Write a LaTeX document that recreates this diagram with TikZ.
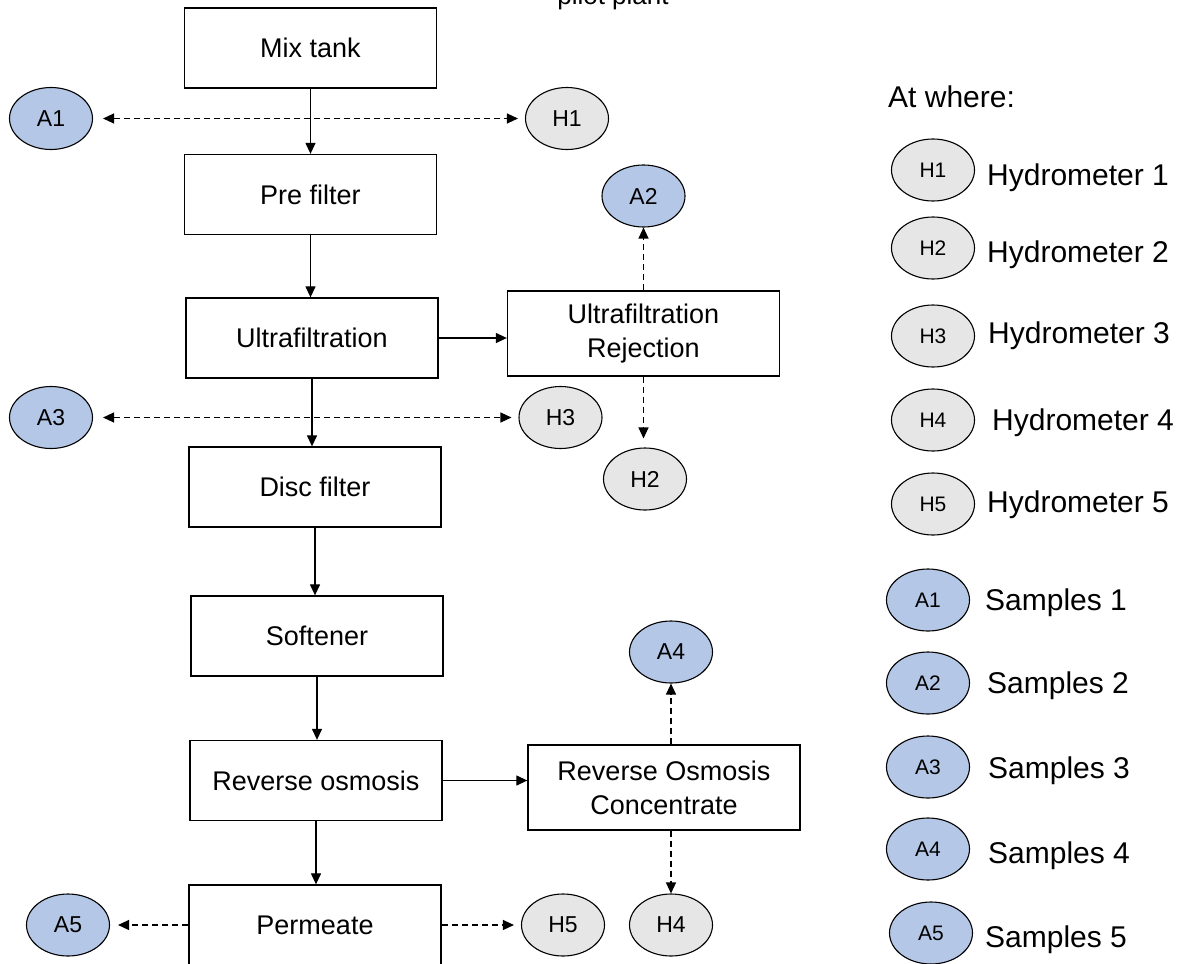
\documentclass[tikz,border=0pt]{standalone}
\usepackage{fontspec}
\setmainfont{Liberation Sans}
\usetikzlibrary{arrows.meta,shapes.geometric}
\definecolor{sblue}{HTML}{B4C7E7}
\definecolor{hgray}{HTML}{E7E6E6}
\begin{document}
\begin{tikzpicture}[x=1pt,y=-1pt,
  proc/.style={draw=black, line width=1.3pt, minimum width=252pt, minimum height=80pt, inner sep=0pt, font=\fontsize{27}{34}\selectfont, align=center},
  sidebox/.style={proc, minimum width=272pt, minimum height=85pt},
  ell/.style={ellipse, draw=black, line width=1.1pt, minimum width=83pt, minimum height=62pt, inner sep=0pt, font=\fontsize{23}{26}\selectfont},
  aell/.style={ell, fill=sblue},
  hell/.style={ell, fill=hgray},
  lab/.style={font=\fontsize{21}{24}\selectfont},
  flow/.style={line width=1.25pt, -{Triangle[length=11pt,width=10pt]}},
  dflow/.style={flow, dash pattern=on 6pt off 4pt},
  dboth/.style={line width=1.25pt, dash pattern=on 6pt off 4pt, {Triangle[length=11pt,width=10pt]}-{Triangle[length=11pt,width=10pt]}},
  leg/.style={anchor=base west, inner sep=0pt, font=\fontsize{30}{36}\selectfont}
]
\useasboundingbox (0,0) rectangle (1189,964);

% title (cut off at top, as in the reference)
\node[anchor=base, inner sep=0pt, font=\fontsize{26}{30}\selectfont] (title) at (613,4) {pilot plant};

% main process boxes
\node[proc] (mix)  at (310.5,48)  {Mix tank};
\node[proc] (pre)  at (310.5,194.5) {Pre filter};
\node[proc] (uf)   at (312,338)   {Ultrafiltration};
\node[proc] (disc) at (315,487)   {Disc filter};
\node[proc] (soft) at (317,636)   {Softener};
\node[proc] (ro)   at (316,780.5) {Reverse osmosis};
\node[proc] (perm) at (315,925)   {Permeate};
\node[sidebox] (ufr) at (643.5,333.5) {Ultrafiltration\\Rejection};
\node[sidebox] (roc) at (664,787.5) {Reverse Osmosis\\Concentrate};

% sampling points
\node[aell] (A1) at (51,118.5) {A1};
\node[hell] (H1) at (567,118.5) {H1};
\node[aell] (A2) at (643.5,196) {A2};
\node[aell] (A3) at (51,417.5) {A3};
\node[hell] (H3) at (560.5,417.5) {H3};
\node[hell] (H2) at (645,479) {H2};
\node[aell] (A4) at (671,652) {A4};
\node[hell] (H4) at (671,925) {H4};
\node[hell] (H5) at (563,925) {H5};
\node[aell] (A5) at (68,925) {A5};

% main flow
\draw[flow] (mix.south) -- (mix.south |- pre.north);
\draw[flow] (pre.south) -- (pre.south |- uf.north);
\draw[flow] (uf.south) -- (uf.south |- disc.north);
\draw[flow] (disc.south) -- (disc.south |- soft.north);
\draw[flow] (soft.south) -- (soft.south |- ro.north);
\draw[flow] (ro.south) -- (ro.south |- perm.north);
\draw[flow] (uf.east) -- (uf.east -| ufr.west);
\draw[flow] (ro.east) -- (ro.east -| roc.west);

% sampling connectors
\draw[dboth, shorten <=10pt, shorten >=7pt] (A1.east) -- (H1.west);
\draw[dboth, shorten <=10pt, shorten >=7pt] (A3.east) -- (H3.west);
\draw[dflow] (ufr.north) -- (A2.south);
\draw[dflow, shorten >=9pt] (ufr.south) -- (ufr.south |- H2.north);
\draw[dflow] (A4.south |- roc.north) -- (A4.south);
\draw[dflow] (H4.north |- roc.south) -- (H4.north);
\draw[dflow, shorten >=8pt] (perm.west) -- (A5.east);
\draw[dflow, shorten >=7pt] (perm.east) -- (H5.west);

% legend
\node[leg] (atw) at (888,107.5) {At where:};
\node[hell, lab] (lH1) at (933,170) {H1};
\node[hell, lab] (lH2) at (933,248) {H2};
\node[hell, lab] (lH3) at (933,336) {H3};
\node[hell, lab] (lH4) at (933,420) {H4};
\node[hell, lab] (lH5) at (933,504) {H5};
\node[leg] (tH1) at (987,185) {Hydrometer 1};
\node[leg] (tH2) at (987,262) {Hydrometer 2};
\node[leg] (tH3) at (988,343) {Hydrometer 3};
\node[leg] (tH4) at (992,430) {Hydrometer 4};
\node[leg] (tH5) at (987,512) {Hydrometer 5};
\node[aell, lab] (lA1) at (928,600) {A1};
\node[aell, lab] (lA2) at (928,683) {A2};
\node[aell, lab] (lA3) at (928,767) {A3};
\node[aell, lab] (lA4) at (928,849) {A4};
\node[aell, lab] (lA5) at (931,933) {A5};
\node[leg] (tA1) at (985,610) {Samples 1};
\node[leg] (tA2) at (987,693) {Samples 2};
\node[leg] (tA3) at (988,778) {Samples 3};
\node[leg] (tA4) at (988,863) {Samples 4};
\node[leg] (tA5) at (985,947) {Samples 5};
\end{tikzpicture}
\end{document}
